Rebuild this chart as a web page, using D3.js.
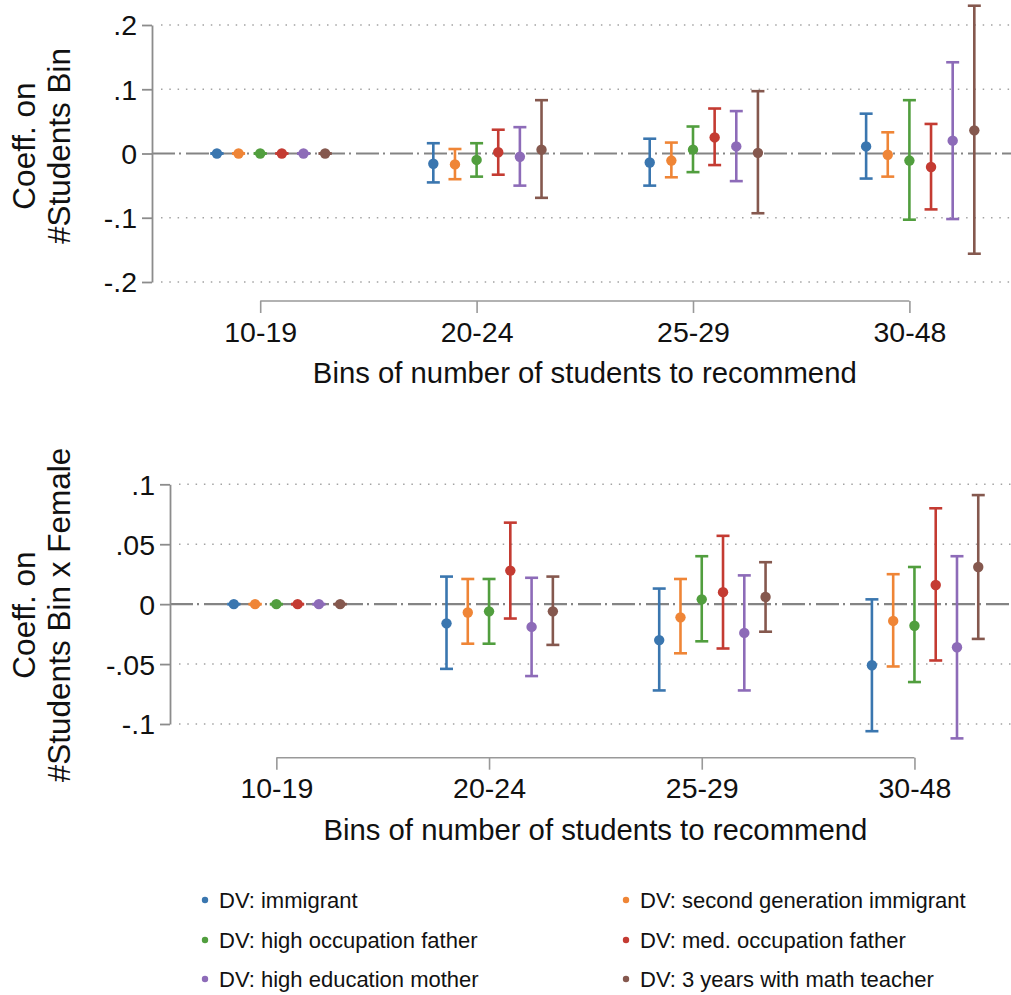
<!DOCTYPE html>
<html>
<head>
<meta charset="utf-8">
<script src="https://cdn.jsdelivr.net/npm/d3@7"></script>
<style>
  html, body { margin: 0; padding: 0; background: #fff; }
  svg { display: block; }
  text { font-family: "Liberation Sans", Arial, Helvetica, sans-serif; fill: #111; }
</style>
</head>
<body>
<svg id="chart" width="1011" height="995"></svg>
<script>
// Bins of number of students to recommend (10-19 is the reference bin)
const bins = ["10-19", "20-24", "25-29", "30-48"];

const seriesNames = [
  "DV: immigrant",
  "DV: second generation immigrant",
  "DV: high occupation father",
  "DV: med. occupation father",
  "DV: high education mother",
  "DV: 3 years with math teacher"
];
const seriesColors = ["#3a76af", "#ef8536", "#519e3e", "#c43b32", "#8d6bb8", "#85584e"];

// Panel 1: coefficient on #Students Bin (rows = series, columns = bins)
const binCoef = [
  [0, -0.016, -0.014,  0.011],
  [0, -0.017, -0.011, -0.002],
  [0, -0.010,  0.006, -0.011],
  [0,  0.002,  0.025, -0.021],
  [0, -0.005,  0.011,  0.020],
  [0,  0.006,  0.001,  0.036]
];
const binLow = [
  [0, -0.045, -0.050, -0.039],
  [0, -0.040, -0.037, -0.036],
  [0, -0.036, -0.029, -0.103],
  [0, -0.033, -0.018, -0.087],
  [0, -0.050, -0.043, -0.102],
  [0, -0.069, -0.093, -0.156]
];
const binHigh = [
  [0, 0.016, 0.023, 0.062],
  [0, 0.007, 0.017, 0.033],
  [0, 0.016, 0.042, 0.083],
  [0, 0.037, 0.070, 0.046],
  [0, 0.041, 0.066, 0.142],
  [0, 0.083, 0.097, 0.230]
];

// Panel 2: coefficient on #Students Bin x Female
const femCoef = [
  [0, -0.016, -0.030, -0.051],
  [0, -0.007, -0.011, -0.014],
  [0, -0.006,  0.004, -0.018],
  [0,  0.028,  0.010,  0.016],
  [0, -0.019, -0.024, -0.036],
  [0, -0.006,  0.006,  0.031]
];
const femLow = [
  [0, -0.054, -0.072, -0.106],
  [0, -0.033, -0.041, -0.052],
  [0, -0.033, -0.031, -0.065],
  [0, -0.012, -0.037, -0.047],
  [0, -0.060, -0.072, -0.112],
  [0, -0.034, -0.023, -0.029]
];
const femHigh = [
  [0, 0.023, 0.013, 0.004],
  [0, 0.021, 0.021, 0.025],
  [0, 0.021, 0.040, 0.031],
  [0, 0.068, 0.057, 0.080],
  [0, 0.022, 0.024, 0.040],
  [0, 0.023, 0.035, 0.091]
];

// Axis ticks
const binTicks = [-0.2, -0.1, 0, 0.1, 0.2];
const binTickLabels = ["-.2", "-.1", "0", ".1", ".2"];
const femTicks = [-0.1, -0.05, 0, 0.05, 0.1];
const femTickLabels = ["-.1", "-.05", "0", ".05", ".1"];

const xTitle = "Bins of number of students to recommend";
const binYTitle = ["Coeff. on", "#Students Bin"];
const femYTitle = ["Coeff. on", "#Students Bin x Female"];

const svg = d3.select("#chart");
const W = 1011;
const AXIS_GRAY = "#8c8c8c";
const TICK_FONT = 28.5;
const FONT = '"Liberation Sans", Arial, Helvetica, sans-serif';

function drawPanel(cfg, coef, low, high, ticks, tickLabels, yTitle) {
  const g = svg.append("g");
  const x = d3.scaleLinear().domain([0.5, 4.5]).range(cfg.xRange);
  const y = d3.scaleLinear().domain(d3.extent(ticks)).range(cfg.yRange);
  const x0 = cfg.xRange[0];

  // dotted horizontal grid
  g.append("g").selectAll("line")
    .data(ticks.filter(t => t !== 0))
    .join("line")
    .attr("x1", x0 + 9).attr("x2", W)
    .attr("y1", d => y(d)).attr("y2", d => y(d))
    .attr("stroke", "#a3a3a3").attr("stroke-width", 1.5)
    .attr("stroke-dasharray", "1.5 6.8");

  // reference line at zero (long dash - dot)
  g.append("line")
    .attr("x1", x0).attr("x2", cfg.xRange[1])
    .attr("y1", y(0)).attr("y2", y(0))
    .attr("stroke", "#848484").attr("stroke-width", 2.2)
    .attr("stroke-dasharray", "23 4 2 5");

  // y axis
  const yAxis = g.append("g")
    .attr("transform", `translate(${x0},0)`)
    .call(d3.axisLeft(y).tickValues(ticks)
      .tickFormat((d, i) => tickLabels[i])
      .tickSize(10).tickSizeOuter(0).tickPadding(5));
  yAxis.select(".domain").attr("stroke", AXIS_GRAY).attr("stroke-width", 1.8);
  yAxis.selectAll(".tick line").attr("stroke", AXIS_GRAY).attr("stroke-width", 1.8);
  yAxis.selectAll(".tick text")
    .attr("dy", "0.35em")
    .style("font-size", TICK_FONT + "px")
    .style("font-family", FONT)
    .attr("fill", "#111");

  // x axis: bracket spanning the bins
  const xAxis = g.append("g")
    .attr("transform", `translate(0,${cfg.xAxisY})`)
    .call(d3.axisBottom(x).tickValues([1, 2, 3, 4])
      .tickFormat((d, i) => bins[i])
      .tickSize(12).tickSizeOuter(0).tickPadding(8.3));
  xAxis.select(".domain").remove();
  xAxis.append("line")
    .attr("x1", x(1)).attr("x2", x(4))
    .attr("stroke", "#999").attr("stroke-width", 1.6);
  xAxis.selectAll(".tick line").attr("stroke", "#999").attr("stroke-width", 1.6);
  xAxis.selectAll(".tick text")
    .style("font-size", TICK_FONT + "px")
    .style("font-family", FONT)
    .attr("fill", "#111");

  // axis titles
  g.append("text")
    .attr("x", (cfg.xRange[0] + cfg.xRange[1]) / 2)
    .attr("y", cfg.xAxisY + 82)
    .attr("text-anchor", "middle")
    .style("font-size", "29.3px")
    .text(xTitle);

  yTitle.forEach((line, i) => {
    g.append("text")
      .attr("transform", `translate(${35 + i * 35},${cfg.yTitleY}) rotate(-90)`)
      .attr("text-anchor", "middle")
      .style("font-size", "31.5px")
      .text(line);
  });

  // estimates with confidence intervals
  const rows = [];
  seriesNames.forEach((name, j) => {
    bins.forEach((b, i) => {
      rows.push({
        xv: i + 1 + (j - 2) * 0.1,
        est: coef[j][i], lo: low[j][i], hi: high[j][i],
        color: seriesColors[j]
      });
    });
  });

  const marks = g.append("g").selectAll("g").data(rows).join("g");
  marks.append("line")
    .attr("x1", d => x(d.xv)).attr("x2", d => x(d.xv))
    .attr("y1", d => y(d.lo)).attr("y2", d => y(d.hi))
    .attr("stroke", d => d.color).attr("stroke-width", 2.6);
  ["lo", "hi"].forEach(k => {
    marks.append("line")
      .attr("x1", d => x(d.xv) - 6.5).attr("x2", d => x(d.xv) + 6.5)
      .attr("y1", d => y(d[k])).attr("y2", d => y(d[k]))
      .attr("stroke", d => d.color).attr("stroke-width", 2.6);
  });
  marks.append("circle")
    .attr("cx", d => x(d.xv)).attr("cy", d => y(d.est))
    .attr("r", 5.2).attr("fill", d => d.color);
}

drawPanel({ xRange: [152, 1017.6], yRange: [282, 25], xAxisY: 301, yTitleY: 146 },
  binCoef, binLow, binHigh, binTicks, binTickLabels, binYTitle);
drawPanel({ xRange: [170, 1020.8], yRange: [724, 484.3], xAxisY: 757.7, yTitleY: 615 },
  femCoef, femLow, femHigh, femTicks, femTickLabels, femYTitle);

// legend, two columns
const legend = svg.append("g");
const colX = [205, 626];
const rowY = [900, 940, 979];
seriesNames.forEach((name, j) => {
  const cx = colX[j % 2], cy = rowY[Math.floor(j / 2)];
  legend.append("circle").attr("cx", cx).attr("cy", cy).attr("r", 3.2).attr("fill", seriesColors[j]);
  legend.append("text")
    .attr("x", cx + 14).attr("y", cy + 8)
    .style("font-size", "22px")
    .text(name);
});
</script>
</body>
</html>
